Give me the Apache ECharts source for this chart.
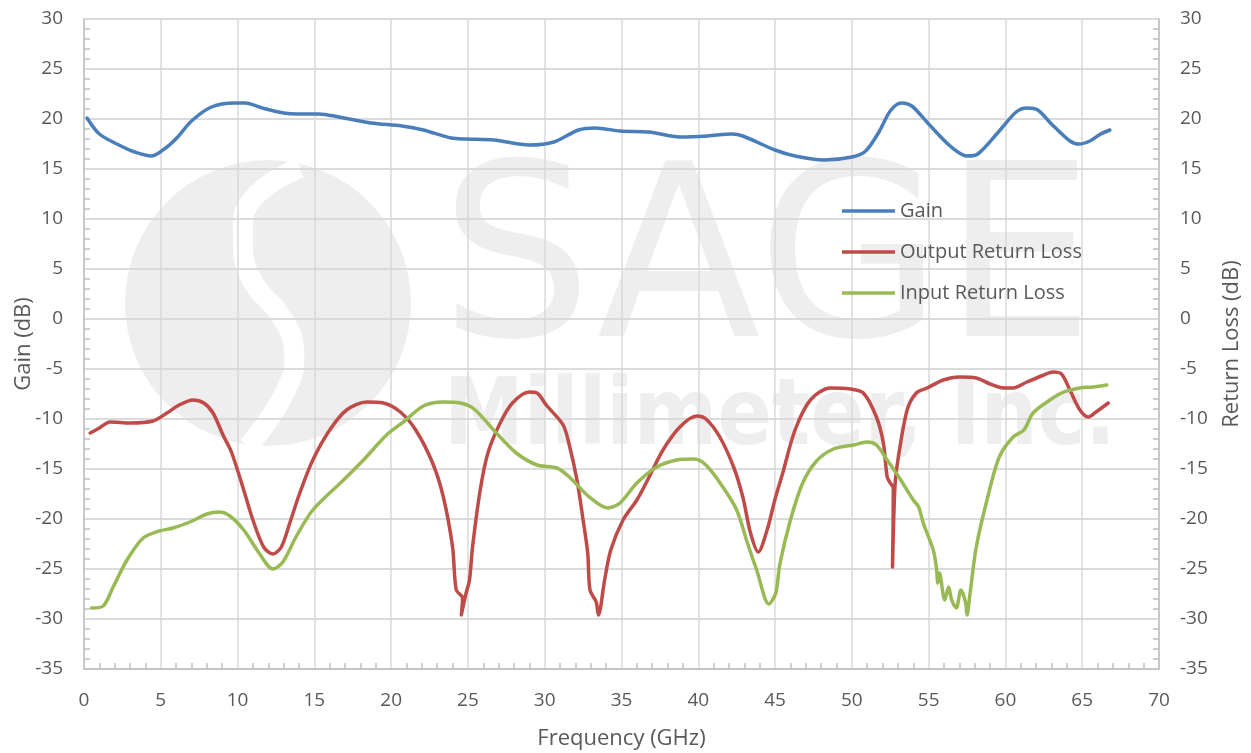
<!DOCTYPE html>
<html>
<head>
<meta charset="utf-8">
<script src="https://cdn.jsdelivr.net/npm/echarts@6/dist/echarts.min.js"></script>
<style>
  html, body { margin: 0; padding: 0; background: #fff; }
  #chart { width: 1251px; height: 753px; }
</style>
</head>
<body>
<div id="chart"></div>
<script>
// Gain (dB) vs frequency (GHz)
const gainFreq = [0.2, 1.0, 2.4, 3.3, 4.4, 5.4, 6.1, 7.0, 8.3, 9.8, 10.5, 11.6, 13.0, 13.9, 15.3, 16.6, 18.7, 20.7, 22.1, 23.9, 24.9, 26.7, 29.0, 30.6, 32.2, 33.3, 34.9, 36.8, 38.8, 40.6, 42.2, 42.9, 45.0, 46.3, 48.2, 50.0, 50.9, 51.8, 52.5, 53.2, 53.9, 55.0, 56.4, 57.5, 58.2, 59.6, 60.7, 61.4, 62.1, 63.0, 64.2, 64.8, 65.5, 66.2, 66.8];
const gainDb = [20.1, 18.5, 17.3, 16.7, 16.3, 17.2, 18.2, 19.8, 21.2, 21.6, 21.6, 21.1, 20.6, 20.5, 20.5, 20.2, 19.6, 19.3, 18.9, 18.1, 18.0, 17.9, 17.4, 17.7, 18.9, 19.1, 18.8, 18.7, 18.2, 18.3, 18.5, 18.3, 16.9, 16.3, 15.9, 16.2, 16.8, 18.8, 20.8, 21.6, 21.3, 19.5, 17.3, 16.3, 16.5, 18.8, 20.7, 21.1, 20.9, 19.5, 17.8, 17.5, 17.8, 18.5, 18.9];

// Output return loss (dB)
const outFreq = [0.4, 1.0, 1.7, 3.0, 4.5, 5.4, 6.2, 7.1, 7.8, 8.4, 9.05, 9.6, 10.4, 11.0, 11.7, 12.3, 12.85, 13.4, 14.05, 14.9, 16.0, 17.1, 18.4, 19.5, 20.6, 21.6, 22.7, 23.4, 24.0, 24.24, 24.65, 24.57, 24.85, 25.1, 25.3, 25.8, 26.3, 27.1, 27.9, 29.0, 29.5, 30.1, 31.2, 31.6, 32.1, 32.5, 32.8, 32.95, 33.35, 33.5, 33.9, 34.3, 35.1, 36.0, 36.8, 37.7, 38.8, 39.9, 40.5, 41.4, 42.3, 42.9, 43.4, 43.9, 44.5, 45.0, 45.5, 46.3, 47.3, 48.6, 49.9, 50.75, 51.6, 52.05, 52.3, 52.5, 52.7, 52.65, 52.8, 53.0, 53.6, 54.2, 54.9, 55.95, 57.0, 58.1, 59.0, 59.9, 60.5, 61.4, 62.5, 63.1, 63.65, 64.2, 64.85, 65.4, 65.9, 66.7];
const outDb = [-11.4, -10.9, -10.3, -10.4, -10.2, -9.4, -8.6, -8.1, -8.4, -9.4, -11.6, -13.3, -17.1, -20.1, -22.8, -23.5, -22.8, -20.4, -17.4, -14.1, -11.1, -9.1, -8.3, -8.4, -9.3, -11.1, -14.4, -17.8, -22.8, -27.1, -27.9, -29.6, -27.6, -26.1, -22.8, -17.1, -13.4, -10.4, -8.4, -7.3, -7.4, -8.6, -10.6, -12.6, -16.1, -20.1, -23.4, -27.1, -28.3, -29.6, -26.1, -23.1, -20.1, -18.1, -15.8, -13.1, -10.8, -9.7, -10.0, -11.8, -14.8, -17.8, -21.4, -23.3, -21.0, -18.0, -15.4, -11.1, -8.1, -6.9, -7.0, -7.4, -9.8, -12.4, -15.8, -16.4, -16.9, -24.8, -16.9, -14.1, -9.1, -7.4, -6.9, -6.1, -5.8, -5.9, -6.5, -6.9, -6.9, -6.3, -5.6, -5.3, -5.5, -7.1, -9.1, -9.8, -9.3, -8.4];

// Input return loss (dB)
const inFreq = [0.5, 1.25, 1.9, 2.8, 3.85, 4.9, 5.8, 6.9, 8.0, 8.8, 9.5, 10.4, 11.4, 12.3, 12.95, 13.8, 14.9, 16.9, 18.2, 19.7, 20.8, 22.1, 23.4, 24.5, 25.4, 26.85, 28.15, 29.5, 30.8, 31.6, 32.9, 34.1, 34.9, 36.0, 37.3, 38.6, 39.7, 40.5, 41.6, 42.5, 43.2, 43.8, 44.6, 45.05, 45.3, 46.0, 46.8, 47.7, 48.8, 50.1, 51.0, 51.6, 52.3, 53.1, 54.0, 54.35, 54.65, 55.3, 55.5, 55.6, 55.7, 56.05, 56.3, 56.5, 56.8, 57.1, 57.4, 57.5, 57.7, 58.1, 58.8, 59.6, 60.5, 61.2, 61.8, 62.9, 63.8, 64.85, 65.7, 66.6];
const inDb = [-28.9, -28.7, -26.8, -24.1, -21.9, -21.2, -20.9, -20.3, -19.5, -19.3, -19.7, -21.1, -23.4, -25.0, -24.3, -21.8, -19.1, -16.1, -14.1, -11.6, -10.3, -8.7, -8.3, -8.4, -9.0, -11.4, -13.4, -14.6, -14.9, -15.8, -17.8, -18.9, -18.4, -16.4, -14.8, -14.1, -14.0, -14.6, -16.8, -19.1, -22.4, -25.1, -28.5, -27.4, -24.6, -20.1, -16.4, -14.2, -13.0, -12.6, -12.3, -12.6, -14.1, -15.9, -18.1, -18.8, -20.4, -23.1, -24.8, -26.4, -25.4, -28.1, -26.8, -28.1, -28.9, -27.1, -28.3, -29.6, -27.4, -22.8, -18.1, -13.8, -11.8, -11.1, -9.4, -8.1, -7.3, -6.9, -6.8, -6.6];

const seriesNames = ['Gain', 'Output Return Loss', 'Input Return Loss'];
const seriesColors = ['#4a7ebb', '#be4b48', '#98b954'];

const zip = (xs, ys) => xs.map((x, i) => [x, ys[i]]);

const txt = '#595959';
const font = 'Open Sans';
const axisGray = '#bfbfbf';
const gridGray = '#d9d9d9';
const wm = '#eeeeee';

const yAxisBase = {
  type: 'value', min: -35, max: 30, interval: 5,
  nameLocation: 'middle', nameMoveOverlap: false,
  nameTextStyle: { color: txt, fontFamily: font, fontSize: 22 },
  axisLine: { show: true, lineStyle: { color: axisGray, width: 1.5 } },
  axisTick: { show: false, inside: true },
  minorTick: { show: true, splitNumber: 5, length: 6, lineStyle: { color: axisGray, width: 1.5 } },
  axisLabel: { color: txt, fontFamily: font, fontSize: 19, margin: 21 },
  splitLine: { show: true, lineStyle: { color: gridGray, width: 1.5 } }
};

const chart = echarts.init(document.getElementById('chart'));
chart.setOption({
  backgroundColor: '#fff',
  animation: false,
  grid: { left: 84, right: 92, top: 19, bottom: 84, containLabel: false, outerBoundsMode: 'none' },
  graphic: [
    { type: 'circle', z: -10, shape: { cx: 268, cy: 303, r: 143 }, style: { fill: wm } },
    { type: 'polyline', z: -9,
      shape: { points: [[300, 168], [252, 200], [243, 240], [252, 280], [280, 315], [294, 350], [285, 392], [248, 446]], smooth: 0.5 },
      style: { fill: null, stroke: '#ffffff', lineWidth: 20 } },
    { type: 'text', z: -10, x: 440, y: 274, style: { x: 0, y: 0, text: 'SAGE', fill: wm,
      font: '240px "DejaVu Sans"', verticalAlign: 'middle' } },
    { type: 'text', z: -10, x: 444, y: 420, scaleX: 0.872, style: { x: 0, y: 0, text: 'Millimeter, Inc.', fill: wm,
      font: 'bold 92px "DejaVu Sans"', verticalAlign: 'middle' } }
  ],
  legend: {
    orient: 'vertical', left: 842, top: 201, padding: 0,
    itemWidth: 53, itemHeight: 3.5, itemGap: 21, icon: 'rect',
    textStyle: { color: txt, fontFamily: font, fontSize: 20, lineHeight: 20 },
    data: seriesNames
  },
  xAxis: {
    type: 'value', min: 0, max: 70, interval: 5,
    name: 'Frequency (GHz)', nameLocation: 'middle', nameGap: 59, nameMoveOverlap: false,
    nameTextStyle: { color: txt, fontFamily: font, fontSize: 22 },
    axisLine: { show: true, onZero: false, lineStyle: { color: axisGray, width: 1.5 } },
    axisTick: { show: false, inside: true },
    minorTick: { show: true, splitNumber: 5, length: 6, lineStyle: { color: axisGray, width: 1.5 } },
    axisLabel: { color: txt, fontFamily: font, fontSize: 19, margin: 22 },
    splitLine: { show: true, lineStyle: { color: gridGray, width: 1.5 } }
  },
  yAxis: [
    Object.assign({}, yAxisBase, { position: 'left', name: 'Gain (dB)', nameGap: 49 }),
    Object.assign({}, yAxisBase, { position: 'right', name: 'Return Loss (dB)', nameGap: 62 })
  ],
  series: [
    { name: seriesNames[0], type: 'line', yAxisIndex: 0, data: zip(gainFreq, gainDb) },
    { name: seriesNames[1], type: 'line', yAxisIndex: 1, data: zip(outFreq, outDb) },
    { name: seriesNames[2], type: 'line', yAxisIndex: 1, data: zip(inFreq, inDb) }
  ].map((s, i) => Object.assign(s, {
    smooth: 0.3, showSymbol: false, symbol: 'none',
    color: seriesColors[i],
    lineStyle: { color: seriesColors[i], width: 3.5, cap: 'round', join: 'round' }
  }))
});
</script>
</body>
</html>
